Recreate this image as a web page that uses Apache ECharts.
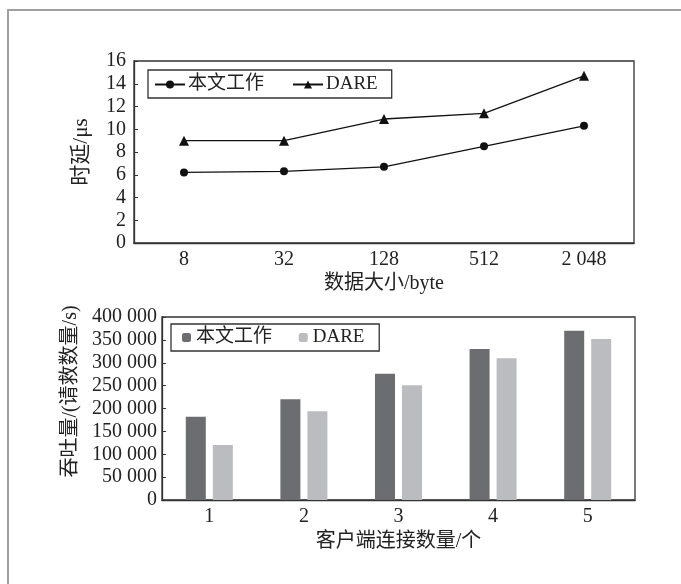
<!DOCTYPE html>
<html>
<head>
<meta charset="utf-8">
<script src="https://cdn.jsdelivr.net/npm/echarts@6/dist/echarts.min.js"></script>
<style>
  html, body { margin: 0; padding: 0; background: #fff; }
  #frame { position: absolute; left: 7px; top: 9px; right: 0; bottom: 0;
           border-left: 2px solid #a0a0a0; border-top: 2px solid #a0a0a0; }
  #main { position: absolute; left: 0; top: 0; width: 681px; height: 584px; }
</style>
</head>
<body>
<div id="frame"></div>
<div id="main"></div>
<script>
// top chart: latency
const sizeLabels = ['8', '32', '128', '512', '2048']
const latencyOurs = [6.2, 6.3, 6.7, 8.5, 10.3]
const latencyDare = [9.0, 9.0, 10.9, 11.4, 14.7]

// bottom chart: throughput
const clientCounts = ['1', '2', '3', '4', '5']
const throughputOurs = [182000, 220000, 276000, 330000, 370000]
const throughputDare = [120000, 194000, 251000, 310000, 352000]

const seriesNames = ['本文工作', 'DARE']

const font = '"Liberation Serif", "Noto Sans CJK SC", serif'
const ink = '#222'

function thousands (v) {
  return String(v).replace(/\B(?=(\d{3})+(?!\d))/g, ' ')
}

let myChart = echarts.init(document.getElementById('main'))
myChart.setOption({
  animation: false,
  textStyle: { fontFamily: font, color: ink },
  legend: [
    {
      data: seriesNames.map(n => ({ name: n })),
      left: 148,
      top: 70,
      padding: [5, 14, 4, 6],
      itemGap: 28,
      itemWidth: 30,
      itemHeight: 10,
      borderColor: '#333',
      borderWidth: 1.3,
      textStyle: { fontFamily: font, fontSize: 19, color: ink, padding: [0, 0, 0, -2] },
      selectedMode: false
    },
    {
      data: [seriesNames[0] + ' ', seriesNames[1] + ' '],
      left: 171,
      top: 324,
      padding: [4, 10, 4, 11],
      itemGap: 22,
      itemWidth: 9,
      itemHeight: 9,
      borderColor: '#333',
      borderWidth: 1.3,
      textStyle: { fontFamily: font, fontSize: 19, color: ink },
      selectedMode: false
    }
  ],
  grid: [
    { left: 134, top: 61, right: 47, height: 182, show: true, borderColor: '#333', borderWidth: 1.3 },
    { left: 162, top: 317, right: 46, height: 183, show: true, borderColor: '#333', borderWidth: 1.3 }
  ],
  xAxis: [
    {
      gridIndex: 0,
      type: 'category',
      data: sizeLabels,
      name: '数据大小/byte',
      nameLocation: 'middle',
      nameGap: 31,
      nameTextStyle: { fontFamily: font, fontSize: 20, color: ink },
      axisLine: { lineStyle: { color: '#333', width: 1.3 } },
      axisTick: { alignWithLabel: true, length: 5, lineStyle: { color: '#333' } },
      axisLabel: { fontSize: 20, color: ink, margin: 7, formatter: thousands }
    },
    {
      gridIndex: 1,
      type: 'category',
      data: clientCounts,
      name: '客户端连接数量/个',
      nameLocation: 'middle',
      nameGap: 32,
      nameTextStyle: { fontFamily: font, fontSize: 20, color: ink },
      axisLine: { lineStyle: { color: '#333', width: 1.3 } },
      axisTick: { show: false },
      axisLabel: { fontSize: 20, color: ink, margin: 7 }
    }
  ],
  yAxis: [
    {
      gridIndex: 0,
      type: 'value',
      min: 0,
      max: 16,
      interval: 2,
      name: '时延/μs',
      nameLocation: 'middle',
      nameGap: 42,
      nameTextStyle: { fontFamily: font, fontSize: 21, color: ink },
      axisLine: { show: true, lineStyle: { color: '#333', width: 1.3 } },
      axisTick: { show: true, inside: true, length: 4, lineStyle: { color: '#333' } },
      splitLine: { show: false },
      axisLabel: { fontSize: 20, color: ink, margin: 8 }
    },
    {
      gridIndex: 1,
      type: 'value',
      min: 0,
      max: 400000,
      interval: 50000,
      name: '吞吐量/(请救数量/s)',
      nameLocation: 'middle',
      nameGap: 78,
      nameTextStyle: { fontFamily: font, fontSize: 20, color: ink, padding: [0, 0, 0, 34] },
      axisLine: { show: true, lineStyle: { color: '#333', width: 1.3 } },
      axisTick: { show: true, inside: true, length: 4, lineStyle: { color: '#333' } },
      splitLine: { show: false },
      axisLabel: { fontSize: 20, color: ink, margin: 5, formatter: thousands }
    }
  ],
  series: [
    {
      name: seriesNames[0],
      type: 'line',
      xAxisIndex: 0,
      yAxisIndex: 0,
      data: latencyOurs,
      symbol: 'circle',
      symbolSize: 8,
      color: '#111',
      lineStyle: { width: 1.3, color: '#111' }
    },
    {
      name: seriesNames[1],
      type: 'line',
      xAxisIndex: 0,
      yAxisIndex: 0,
      data: latencyDare,
      symbol: 'triangle',
      symbolSize: 10,
      color: '#111',
      lineStyle: { width: 1.3, color: '#111' }
    },
    {
      name: seriesNames[0] + ' ',
      type: 'bar',
      xAxisIndex: 1,
      yAxisIndex: 1,
      data: throughputOurs,
      barWidth: 20,
      barGap: '35%',
      color: '#6c6d71'
    },
    {
      name: seriesNames[1] + ' ',
      type: 'bar',
      xAxisIndex: 1,
      yAxisIndex: 1,
      data: throughputDare,
      barWidth: 20,
      barGap: '35%',
      color: '#bbbcbf'
    }
  ]
})
</script>
</body>
</html>
